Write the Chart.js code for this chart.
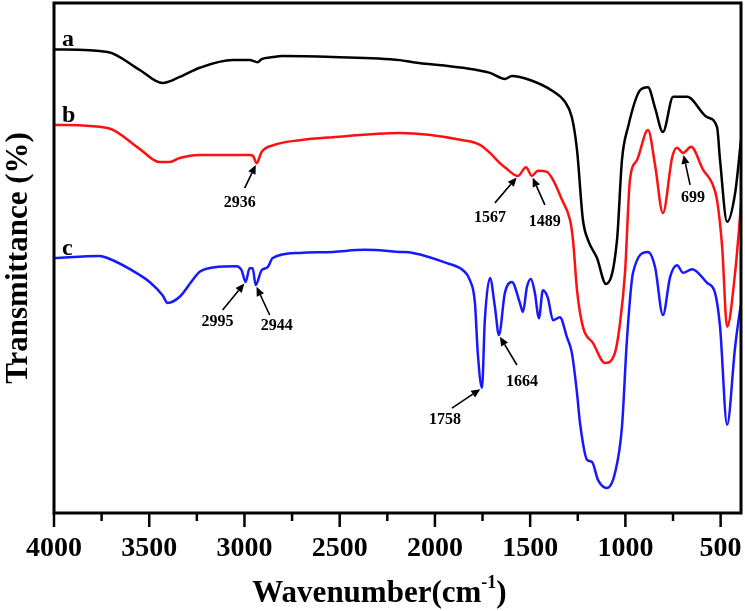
<!DOCTYPE html>
<html>
<head>
<meta charset="utf-8">
<script src="https://cdn.jsdelivr.net/npm/chart.js@4.4.0/dist/chart.umd.min.js"></script>
<style>
  html, body { margin: 0; padding: 0; background: #fff; }
  #wrap { width: 745px; height: 611px; }
</style>
</head>
<body>
<div id="wrap"><canvas id="ftirChart" width="745" height="611"></canvas></div>
<script>
// Espectro a (negro)
const waveA = [4000, 3719, 3551, 3430, 3340, 3235, 3062, 2973, 2931, 2910, 2852, 2799, 2536, 2184, 2116, 1853, 1711, 1633, 1596, 1501,
  1380, 1317, 1281, 1254, 1223, 1196, 1149, 1102, 1044, 1018, 986, 923, 881, 844, 803, 749, 676, 571, 519, 503, 466, 424, 393];
const transA = [90.9, 90.4, 86.9, 84.3, 85.5, 87.3, 88.8, 88.8, 88.4, 89.0, 89.4, 89.6, 89.4, 88.8, 88.4, 87.3, 86.3, 85.1, 85.7, 84.9,
  82.7, 80.6, 77.6, 71.2, 57.5, 53.5, 50.0, 44.9, 53.5, 69.2, 75.7, 82.9, 83.5, 79.4, 74.7, 81.6, 81.6, 77.6, 75.7, 69.2, 57.1, 62.7, 73.1];

// Espectro b (rojo)
const waveB = [4000, 3719, 3551, 3446, 3393, 3340, 3235, 2973, 2955, 2936, 2910, 2841, 2710, 2536, 2184, 1853, 1764, 1711, 1659, 1633,
  1564, 1522, 1491, 1459, 1412, 1380, 1333, 1291, 1275, 1254, 1223, 1170, 1107, 1055, 1028, 1002, 976, 939, 881, 844,
  803, 754, 729, 697, 655, 592, 545, 519, 492, 466, 424, 393];
const transB = [76.1, 75.5, 71.4, 68.8, 68.8, 69.6, 70.2, 70.2, 70.0, 68.6, 70.8, 72.2, 73.1, 73.7, 74.5, 73.1, 72.2, 70.6, 68.6, 67.8,
  66.1, 67.8, 66.1, 67.1, 66.9, 65.3, 61.4, 57.5, 53.5, 43.7, 36.5, 33.3, 29.4, 31.4, 37.3, 47.1, 65.3, 69.2, 75.1, 68.2,
  58.8, 69.8, 71.6, 70.6, 71.8, 67.3, 64.7, 61.4, 52.2, 36.5, 47.1, 60.4];

// Espectro c (azul)
const waveC = [4000, 3761, 3719, 3551, 3498, 3430, 3404, 3340, 3272, 3235, 3157, 3041, 3015, 2994, 2973, 2957, 2941, 2910, 2878, 2852,
  2710, 2536, 2368, 2184, 2116, 1937, 1853, 1817, 1790, 1775, 1753, 1738, 1711, 1685, 1664, 1633, 1596, 1554, 1538, 1517,
  1496, 1475, 1454, 1433, 1407, 1380, 1344, 1307, 1281, 1254, 1238, 1201, 1175, 1144, 1097, 1055, 1018, 992, 960, 881,
  844, 803, 765, 729, 697, 650, 571, 529, 503, 466, 424, 398, 393];
const transC = [50.0, 50.4, 50.0, 46.7, 45.3, 42.7, 41.2, 42.4, 45.7, 47.3, 48.2, 48.4, 47.6, 45.3, 48.0, 48.0, 44.7, 47.6, 48.2, 50.0,
  51.0, 51.2, 51.6, 51.2, 51.0, 49.0, 47.6, 45.7, 41.2, 31.4, 24.5, 37.8, 46.1, 40.4, 34.9, 43.1, 45.3, 41.2, 39.4, 44.3,
  45.9, 43.1, 38.2, 43.7, 42.2, 37.8, 38.4, 34.5, 31.4, 23.5, 17.6, 10.4, 10.0, 6.5, 4.9, 7.8, 16.9, 33.9, 47.1, 51.2,
  48.2, 38.8, 46.3, 48.6, 47.1, 47.8, 45.1, 43.1, 36.5, 17.3, 32.5, 39.8, 40.8];

// Marcas del eje X
const xMajorTicks = [4000, 3500, 3000, 2500, 2000, 1500, 1000, 500];
const xMinorTicks = [3750, 3250, 2750, 2250, 1750, 1250, 750];

// Picos señalados: texto, serie, número de onda
const peakNotes = [
  { text: '2936', serie: 1, wn: 2936, tail: [-12, 25], label: [-17, 40] },
  { text: '1567', serie: 1, wn: 1564, tail: [-23, 27], label: [-28, 42] },
  { text: '1489', serie: 1, wn: 1491, tail: [13, 29], label: [13, 46] },
  { text: '699', serie: 1, wn: 697, tail: [7, 32], label: [10, 45] },
  { text: '2995', serie: 2, wn: 2994, tail: [-23, 28], label: [-28, 40] },
  { text: '2944', serie: 2, wn: 2941, tail: [14, 30], label: [21, 41] },
  { text: '1664', serie: 2, wn: 1664, tail: [18, 30], label: [23, 47] },
  { text: '1758', serie: 2, wn: 1753, tail: [-30, 20], label: [-37, 32] }
];

const serieLetters = ['a', 'b', 'c'];
const serif = '"Liberation Serif", "Times New Roman", serif';

function toPoints(waves, values) {
  return waves.map((w, i) => ({ x: w, y: values[i] }));
}

function nearestPoint(chart, serie, wn) {
  const raw = chart.data.datasets[serie].data;
  const meta = chart.getDatasetMeta(serie);
  let best = 0, bestD = Infinity;
  raw.forEach((p, i) => {
    const d = Math.abs(p.x - wn);
    if (d < bestD) { bestD = d; best = i; }
  });
  return meta.data[best];
}

function drawArrow(ctx, x1, y1, x2, y2) {
  const ang = Math.atan2(y2 - y1, x2 - x1);
  const ex = x2 - Math.cos(ang) * 2, ey = y2 - Math.sin(ang) * 2;
  const hl = 9, hw = 4;
  const bx = ex - Math.cos(ang) * hl, by = ey - Math.sin(ang) * hl;
  ctx.beginPath();
  ctx.moveTo(x1, y1);
  ctx.lineTo(bx, by);
  ctx.stroke();
  ctx.beginPath();
  ctx.moveTo(ex, ey);
  ctx.lineTo(bx - Math.sin(ang) * hw, by + Math.cos(ang) * hw);
  ctx.lineTo(bx + Math.sin(ang) * hw, by - Math.cos(ang) * hw);
  ctx.closePath();
  ctx.fill();
}

// Marco, marcas, etiquetas y título X
const decoPlugin = {
  id: 'deco',
  afterDatasetsDraw(chart) {
    const { ctx, chartArea: { left, top, right, bottom }, scales: { x } } = chart;
    ctx.save();
    ctx.strokeStyle = '#000';
    ctx.fillStyle = '#000';

    // marco
    ctx.lineWidth = 3;
    ctx.strokeRect(left, top, right - left, bottom - top);

    // marcas
    ctx.lineWidth = 2.5;
    xMajorTicks.forEach(v => {
      const px = x.getPixelForValue(v);
      ctx.beginPath(); ctx.moveTo(px, bottom); ctx.lineTo(px, bottom + 14); ctx.stroke();
    });
    xMinorTicks.forEach(v => {
      const px = x.getPixelForValue(v);
      ctx.beginPath(); ctx.moveTo(px, bottom); ctx.lineTo(px, bottom + 8); ctx.stroke();
    });

    // letras de cada serie
    ctx.font = 'bold 24px ' + serif;
    ctx.textAlign = 'left';
    ctx.textBaseline = 'alphabetic';
    serieLetters.forEach((t, i) => {
      const p = chart.getDatasetMeta(i).data[0];
      ctx.fillText(t, p.x + 8, p.y - 3);
    });

    // picos
    ctx.lineWidth = 1.6;
    ctx.font = 'bold 16px ' + serif;
    ctx.textAlign = 'center';
    ctx.textBaseline = 'middle';
    peakNotes.forEach(n => {
      const p = nearestPoint(chart, n.serie, n.wn);
      drawArrow(ctx, p.x + n.tail[0], p.y + n.tail[1], p.x, p.y);
      ctx.fillText(n.text, p.x + n.label[0], p.y + n.label[1]);
    });

    // título eje X con superíndice
    const main = 'Wavenumber(cm';
    const sup = '-1';
    const close = ')';
    ctx.textBaseline = 'alphabetic';
    ctx.textAlign = 'left';
    ctx.font = 'bold 31px ' + serif;
    const wMain = ctx.measureText(main).width;
    const wClose = ctx.measureText(close).width;
    ctx.font = 'bold 18px ' + serif;
    const wSup = ctx.measureText(sup).width;
    const total = wMain + wSup + wClose;
    let tx = (left + right) / 2 - 18 - total / 2;
    const ty = bottom + 89;
    ctx.font = 'bold 31px ' + serif;
    ctx.fillText(main, tx, ty);
    tx += wMain;
    ctx.font = 'bold 18px ' + serif;
    ctx.fillText(sup, tx, ty - 14);
    tx += wSup;
    ctx.font = 'bold 31px ' + serif;
    ctx.fillText(close, tx, ty);

    ctx.restore();
  }
};

const ctx = document.getElementById('ftirChart');
new Chart(ctx, {
  type: 'line',
  data: {
    datasets: [
      { label: 'a', data: toPoints(waveA, transA), borderColor: '#000000' },
      { label: 'b', data: toPoints(waveB, transB), borderColor: '#ff1010' },
      { label: 'c', data: toPoints(waveC, transC), borderColor: '#1818ff' }
    ]
  },
  options: {
    responsive: false,
    animation: false,
    devicePixelRatio: 1,
    layout: { padding: { left: 0, right: 4, top: 3, bottom: 0 } },
    elements: {
      point: { radius: 0 },
      line: { borderWidth: 2.5, cubicInterpolationMode: 'monotone', fill: false }
    },
    plugins: { legend: { display: false }, tooltip: { enabled: false } },
    scales: {
      x: {
        type: 'linear',
        reverse: true,
        min: 393,
        max: 4000,
        afterBuildTicks: scale => { scale.ticks = xMajorTicks.map(v => ({ value: v })); },
        afterFit: scale => {
          scale.height = 98;
          scale.paddingLeft = 0;
          scale.paddingRight = 0;
        },
        ticks: {
          autoSkip: false,
          maxRotation: 0,
          padding: 19,
          color: '#000',
          font: { family: serif, size: 28, weight: 'bold' },
          callback: v => String(v)
        },
        grid: { display: false, drawTicks: false },
        border: { display: false }
      },
      y: {
        min: 0,
        max: 100,
        afterFit: scale => { scale.width = 54; },
        ticks: { display: false },
        grid: { display: false, drawTicks: false },
        border: { display: false },
        title: {
          display: true,
          text: 'Transmittance (%)',
          color: '#000',
          padding: 0,
          font: { family: serif, size: 31, weight: 'bold' }
        }
      }
    }
  },
  plugins: [decoPlugin]
});
</script>
</body>
</html>
